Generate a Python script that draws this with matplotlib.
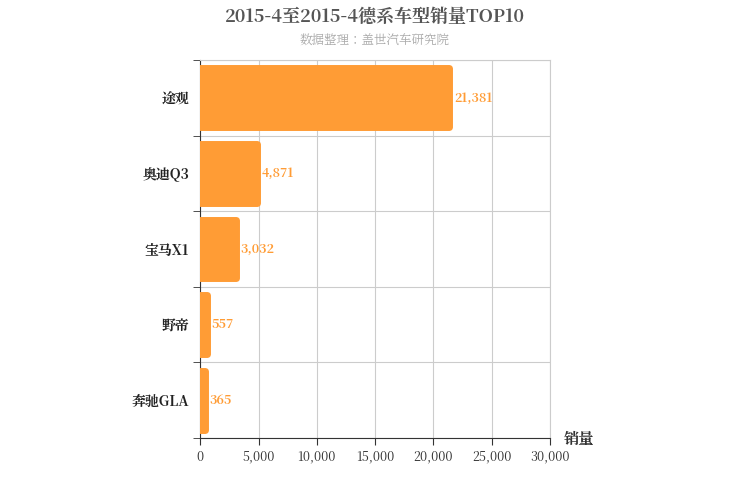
import matplotlib
matplotlib.use("Agg")
import matplotlib.pyplot as plt
from matplotlib import font_manager
import numpy as np

cjk = [f.name for f in font_manager.fontManager.ttflist if "CJK" in f.name]
plt.rcParams["font.family"] = "sans-serif"
plt.rcParams["font.sans-serif"] = (["Noto Sans CJK SC"] if "Noto Sans CJK SC" in cjk else []) + cjk[:1] + ["DejaVu Sans"]

models = ["途观", "奥迪Q3", "宝马X1", "野帝", "奔驰GLA"]
sales = [21381, 4871, 3032, 557, 365]
xticks = [0, 5000, 10000, 15000, 20000, 25000, 30000]

ORANGE = "#ff9c35"

fig = plt.figure(figsize=(7.5, 5), dpi=100)
ax = fig.add_axes([0.267, 0.124, 0.466, 0.756])

n = len(models)
ys = np.arange(n)[::-1]
ax.barh(ys, sales, height=0.78, color=ORANGE, edgecolor=ORANGE, linewidth=5,
        joinstyle="round", zorder=3)
for y, v in zip(ys, sales):
    ax.text(v + 400, y, f"{v:,}", va="center", ha="left", fontsize=9,
            color=ORANGE, fontweight="bold")

ax.set_xlim(0, 30000)
ax.set_ylim(-0.5, n - 0.5)
ax.set_xticks(xticks)
ax.set_xticklabels([f"{t:,}" for t in xticks], fontsize=9, color="#333333")
ax.set_yticks(ys)
ax.set_yticklabels(models, fontsize=10, color="#222222", fontweight="bold")
ax.set_yticks(np.arange(-0.5, n, 1.0), minor=True)
ax.tick_params(axis="y", which="major", length=0, pad=8)
ax.tick_params(axis="y", which="minor", length=5, color="#333333")
ax.tick_params(axis="x", length=5, color="#333333")

ax.grid(True, axis="x", color="#cccccc", lw=0.8, zorder=0)
ax.grid(True, axis="y", which="minor", color="#cccccc", lw=0.8, zorder=0)
for s in ["top", "right"]:
    ax.spines[s].set_color("#cccccc")
for s in ["left", "bottom"]:
    ax.spines[s].set_color("#333333")

fig.text(0.5, 0.965, "2015-4至2015-4德系车型销量TOP10", ha="center", va="center",
         fontsize=13, fontweight="bold", color="#555555")
fig.text(0.5, 0.918, "数据整理：盖世汽车研究院", ha="center", va="center",
         fontsize=9, color="#aaaaaa")
fig.text(0.752, 0.122, "销量", ha="left", va="center", fontsize=11,
         fontweight="bold", color="#333333")

fig.savefig("out.png")
